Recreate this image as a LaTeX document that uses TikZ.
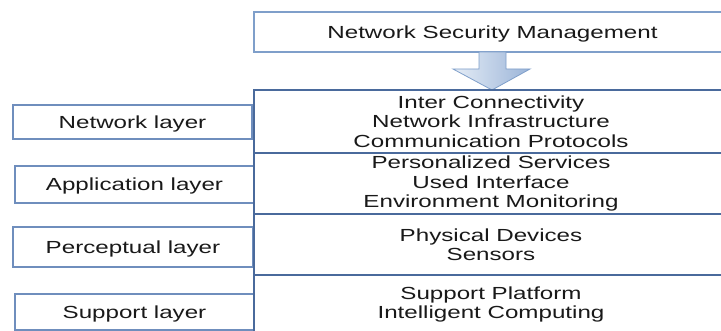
\documentclass[tikz,border=0pt]{standalone}
\usepackage{fontspec}
\usepackage{graphicx}
\setmainfont{Liberation Sans}
\definecolor{lbord}{HTML}{6F8EBD}
\definecolor{rbord}{HTML}{4A6A9C}
\definecolor{arrbord}{HTML}{7F9FCA}
\definecolor{arrl}{HTML}{E6EDF6}
\definecolor{arrr}{HTML}{9AB4D8}
\newcommand{\sx}[1]{\scalebox{1.38}[1]{#1}}
\tikzset{
  lbox/.style={draw=lbord, line width=1.2pt, rectangle, inner sep=0pt, minimum width=239pt, text=black!90, text height=15.8pt, text depth=3.7pt},
  rbox/.style={draw=rbord, line width=1.4pt, rectangle, inner sep=0pt, minimum width=474pt, align=center, text=black!90},
}
\begin{document}
\begin{tikzpicture}[x=1pt,y=-1pt, font=\fontsize{17.5}{19.5}\selectfont]
\useasboundingbox (0,0) rectangle (721,331);
\clip (0,0) rectangle (721,331);
\fill[white] (0,0) rectangle (721,331);
% top box
\node[rbox, draw=arrbord, line width=1.2pt, minimum width=477pt, minimum height=40pt, text height=15.8pt, text depth=3.7pt] (top) at (492.5,32) {\sx{Network Security Management}};
% arrow
\draw[arrbord, line width=0.8pt, left color=arrl, right color=arrr]
  (479,52) -- (506,52) -- (506,69) -- (530,69) -- (492,90) -- (453,69) -- (479,69) -- cycle;
% left boxes
\node[lbox, minimum height=34pt] (lnet) at (132.5,122) {\sx{Network layer}};
\node[lbox, minimum height=37pt] (lapp) at (134.5,184.5) {\sx{Application layer}};
\node[lbox, minimum width=240pt, minimum height=40pt] (lper) at (133,247) {\sx{Perceptual layer}};
\node[lbox, minimum height=36pt] (lsup) at (134.5,312) {\sx{Support layer}};
% right boxes
\node[rbox, minimum height=63pt] (rnet) at (491,121.5) {\sx{Inter Connectivity}\\\sx{Network Infrastructure}\\\sx{Communication Protocols}};
\node[rbox, minimum height=61pt] (rapp) at (491,183.5) {\sx{Personalized Services}\\\sx{Used Interface}\\\sx{Environment Monitoring}};
\node[rbox, minimum height=61pt] (rper) at (491,244.5) {\sx{Physical Devices}\\\sx{Sensors}};
\node[rbox, minimum height=59pt] (rsup) at (491,304.5) {\sx{Support Platform}\\\sx{Intelligent Computing}};
\end{tikzpicture}
\end{document}
